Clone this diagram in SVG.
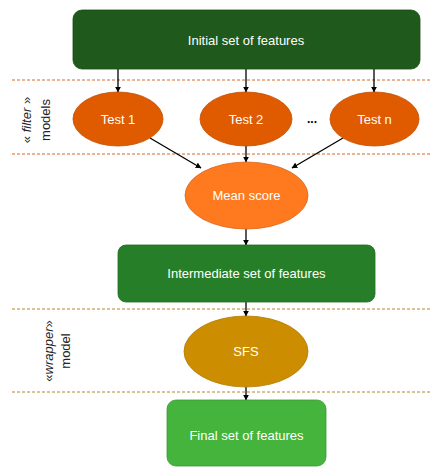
<svg xmlns="http://www.w3.org/2000/svg" width="432" height="467" viewBox="0 0 432 467">
<style>
  .lbl { font-family: "Liberation Sans", Arial, sans-serif; font-size: 13px; fill: #ffffff; text-anchor: middle; dominant-baseline: central; }
  .side { font-family: "Liberation Sans", Arial, sans-serif; font-size: 13px; fill: #222222; text-anchor: middle; dominant-baseline: central; }
  .dots { font-family: "Liberation Sans", Arial, sans-serif; font-size: 12px; font-weight: bold; fill: #000000; text-anchor: middle; }
  .conn line { stroke: #000000; stroke-width: 1.3; marker-end: url(#ah); }
  .sepA { stroke: #D2691E; stroke-width: 1; stroke-dasharray: 3 2; }
  .sepB { stroke: #B8862B; stroke-width: 1; stroke-dasharray: 3 2; }
</style>
<defs>
  <marker id="ah" viewBox="0 0 10 10" refX="9" refY="5" markerWidth="6" markerHeight="6" orient="auto-start-reverse" markerUnits="userSpaceOnUse">
    <path d="M0,0 L10,5 L0,10 z" fill="#000000"/>
  </marker>
</defs>
<rect width="432" height="467" fill="#ffffff"/>

<g id="separators">
  <line class="sepA" x1="12" y1="80" x2="432" y2="80"/>
  <line class="sepA" x1="12" y1="154" x2="432" y2="154"/>
  <line class="sepB" x1="12" y1="309" x2="432" y2="309"/>
  <line class="sepB" x1="12" y1="392" x2="432" y2="392"/>
</g>

<g id="label-filter">
  <text class="side" transform="translate(26,120) rotate(-90)">« <tspan font-style="italic">filter</tspan> »</text>
  <text class="side" transform="translate(45,120) rotate(-90)">models</text>
</g>
<g id="label-wrapper">
  <text class="side" transform="translate(48,351) rotate(-90)">«<tspan font-style="italic">wrapper</tspan>»</text>
  <text class="side" transform="translate(65,351) rotate(-90)">model</text>
</g>

<g class="conn" id="connectors">
  <line x1="118" y1="69" x2="118" y2="92"/>
  <line x1="246" y1="69" x2="246" y2="92"/>
  <line x1="374" y1="69" x2="374" y2="92"/>
  <line x1="150" y1="138" x2="201" y2="168"/>
  <line x1="246" y1="146" x2="246" y2="162"/>
  <line x1="343" y1="138" x2="292" y2="168"/>
  <line x1="246" y1="229" x2="246" y2="245"/>
  <line x1="246" y1="302" x2="246" y2="316"/>
  <line x1="246" y1="387" x2="246" y2="400"/>
</g>

<g id="initial">
  <rect x="73" y="10" width="347" height="59" rx="9" fill="#1F5A1C" stroke="#194a17" stroke-width="0.8"/>
  <text class="lbl" x="246" y="40">Initial set of features</text>
</g>
<g id="test1">
  <ellipse cx="118" cy="119" rx="45" ry="27" fill="#E05A00" stroke="#c04e00" stroke-width="0.8"/>
  <text class="lbl" x="118" y="119">Test 1</text>
</g>
<g id="test2">
  <ellipse cx="246" cy="119" rx="46" ry="27" fill="#E05A00" stroke="#c04e00" stroke-width="0.8"/>
  <text class="lbl" x="246" y="119">Test 2</text>
</g>
<g id="ellipsis">
  <text class="dots" x="312" y="123">...</text>
</g>
<g id="testn">
  <ellipse cx="374.5" cy="119" rx="44.5" ry="27" fill="#E05A00" stroke="#c04e00" stroke-width="0.8"/>
  <text class="lbl" x="374.5" y="119">Test n</text>
</g>
<g id="mean">
  <ellipse cx="246.5" cy="195.5" rx="61.5" ry="33.5" fill="#FF7A1F" stroke="#d9661a" stroke-width="0.8"/>
  <text class="lbl" x="246.5" y="195">Mean score</text>
</g>
<g id="intermediate">
  <rect x="118" y="245" width="257" height="57" rx="8" fill="#267F28" stroke="#206c22" stroke-width="0.8"/>
  <text class="lbl" x="246.5" y="273">Intermediate set of features</text>
</g>
<g id="sfs">
  <ellipse cx="246" cy="351.5" rx="62" ry="35.5" fill="#CC8E00" stroke="#b07a00" stroke-width="0.8"/>
  <text class="lbl" x="246" y="351">SFS</text>
</g>
<g id="final">
  <rect x="167" y="400" width="159" height="66" rx="9" fill="#45B43C" stroke="#3a9a33" stroke-width="0.8"/>
  <text class="lbl" x="246.5" y="435">Final set of features</text>
</g>
</svg>
